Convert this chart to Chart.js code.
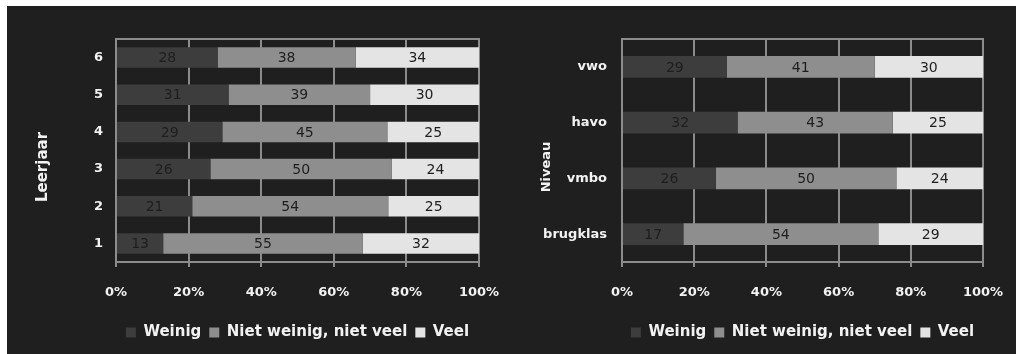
<!DOCTYPE html>
<html><head><meta charset="utf-8">
<script src="https://cdn.jsdelivr.net/npm/chart.js@4.4.1/dist/chart.umd.min.js"></script>
<style>
html,body{margin:0;padding:0;background:#ffffff;width:1016px;height:354px;overflow:hidden;}
#bg{position:absolute;left:7px;top:6px;width:1009px;height:348px;background:#1f1f1f;}
.box{position:absolute;top:0;width:508px;height:354px;}
canvas{display:block;}
</style></head><body>
<div id="bg"></div>
<div class="box" style="left:0"><canvas id="c1" width="508" height="354"></canvas></div>
<div class="box" style="left:508px"><canvas id="c2" width="508" height="354"></canvas></div>
<script>
// ---- data ----
const seriesNames = ['Weinig', 'Niet weinig, niet veel', 'Veel'];
const xTickValues = [0, 20, 40, 60, 80, 100];

const leerjaarLabels = ['6', '5', '4', '3', '2', '1'];
const leerjaarWeinig = [28, 31, 29, 26, 21, 13];
const leerjaarMidden = [38, 39, 45, 50, 54, 55];
const leerjaarVeel   = [34, 30, 25, 24, 25, 32];

const niveauLabels = ['vwo', 'havo', 'vmbo', 'brugklas'];
const niveauWeinig = [29, 32, 26, 17];
const niveauMidden = [41, 43, 50, 54];
const niveauVeel   = [30, 25, 24, 29];

// ---- styling ----
const FONT = '"DejaVu Sans", "Liberation Sans", sans-serif';
const seriesColors = ['#3d3d3d', '#8e8e8e', '#e4e4e4'];
const textColor = '#f2f2f2';
const gridColor = '#8c8c8c';

const valueLabels = {
  id: 'valueLabels',
  afterDatasetsDraw(chart) {
    const ctx = chart.ctx;
    ctx.save();
    ctx.font = '14px ' + FONT;
    ctx.fillStyle = '#1e1e1e';
    ctx.textAlign = 'center';
    ctx.textBaseline = 'middle';
    chart.data.datasets.forEach((ds, di) => {
      chart.getDatasetMeta(di).data.forEach((el, i) => {
        const p = el.getProps(['x', 'y', 'base'], true);
        ctx.fillText(String(ds.rawValues[i]), (p.x + p.base) / 2, p.y + 1);
      });
    });
    ctx.restore();
  }
};

const frame = {
  id: 'frame',
  beforeDatasetsDraw(chart) {
    const a = chart.chartArea, ctx = chart.ctx;
    ctx.save();
    ctx.strokeStyle = gridColor;
    ctx.lineWidth = 2;
    ctx.strokeRect(a.left, a.top, a.right - a.left, a.bottom - a.top);
    ctx.restore();
  }
};

function axisTitle(text, x, y, size) {
  return {
    id: 'axisTitle',
    afterDraw(chart) {
      const ctx = chart.ctx;
      ctx.save();
      ctx.translate(x, y);
      ctx.rotate(-Math.PI / 2);
      ctx.font = 'bold ' + size + 'px ' + FONT;
      ctx.fillStyle = textColor;
      ctx.textAlign = 'center';
      ctx.textBaseline = 'middle';
      ctx.fillText(text, 0, 0);
      ctx.restore();
    }
  };
}

function makeChart(id, labels, weinig, midden, veel, o) {
  const raw = [weinig, midden, veel];
  const totals = labels.map((_, i) => weinig[i] + midden[i] + veel[i]);
  const datasets = raw.map((arr, k) => ({
    label: seriesNames[k],
    data: arr.map((v, i) => v / totals[i] * 100),
    rawValues: arr,
    backgroundColor: seriesColors[k],
    borderWidth: 0,
    categoryPercentage: o.catPct,
    barPercentage: 1
  }));
  return new Chart(document.getElementById(id), {
    type: 'bar',
    data: { labels, datasets },
    options: {
      indexAxis: 'y',
      responsive: false,
      animation: false,
      layout: { padding: { top: 39, right: o.right, left: 0, bottom: 4 } },
      scales: {
        x: {
          stacked: true, min: 0, max: 100,
          afterBuildTicks: s => { s.ticks = xTickValues.map(v => ({ value: v })); },
          ticks: {
            callback: v => v + '%', color: textColor, maxRotation: 0,
            font: { family: FONT, size: 13, weight: 'bold' }, padding: 18
          },
          grid: { color: gridColor, lineWidth: 2, tickLength: 5, drawTicks: true },
          border: { color: gridColor, width: 2 },
          afterFit: s => { s.height = 55; s.paddingLeft = 0; s.paddingRight = 0; }
        },
        y: {
          stacked: true,
          ticks: { color: textColor, font: { family: FONT, size: 13, weight: 'bold' }, padding: o.ypad },
          grid: { display: false, drawTicks: false },
          border: { display: true, color: gridColor, width: 2 },
          afterFit: s => { s.width = o.left; s.paddingTop = 0; s.paddingBottom = 0; }
        }
      },
      plugins: {
        legend: {
          position: 'bottom', fullSize: false,
          labels: {
            boxWidth: 10, boxHeight: 10, padding: 8, color: textColor,
            font: { family: FONT, size: 15, weight: 'bold' }
          }
        },
        tooltip: { enabled: false }
      }
    },
    plugins: [frame, valueLabels, axisTitle(o.title, o.tx, o.ty, o.tsize)]
  });
}

makeChart('c1', leerjaarLabels, leerjaarWeinig, leerjaarMidden, leerjaarVeel,
  { catPct: 0.55, right: 29, left: 116, ypad: 13, title: 'Leerjaar', tx: 43, ty: 167, tsize: 15 });
makeChart('c2', niveauLabels, niveauWeinig, niveauMidden, niveauVeel,
  { catPct: 0.39, right: 33, left: 114, ypad: 15, title: 'Niveau', tx: 39, ty: 167, tsize: 13 });
</script>
</body></html>
